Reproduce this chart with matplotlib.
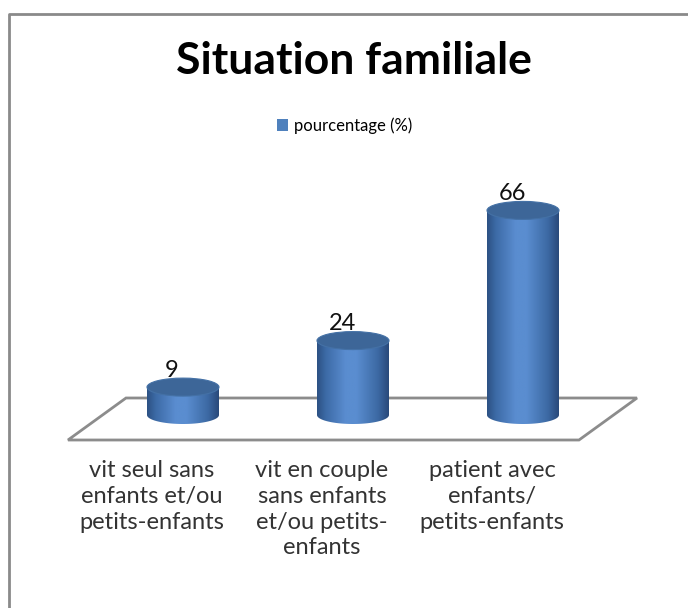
import numpy as np
import matplotlib.pyplot as plt
from matplotlib.patches import Polygon, Ellipse, Rectangle
from matplotlib.lines import Line2D
from matplotlib.colors import LinearSegmentedColormap

title = "Situation familiale"
series_name = "pourcentage (%)"
categories = ["vit seul sans\nenfants et/ou\npetits-enfants",
              "vit en couple\nsans enfants\net/ou petits-\nenfants",
              "patient avec\nenfants/\npetits-enfants"]
values = [9, 24, 66]

plt.rcParams['font.family'] = ['Lato', 'DejaVu Sans']

W, H = 688, 608
fig = plt.figure(figsize=(W / 100, H / 100), dpi=100)
ax = fig.add_axes([0, 0, 1, 1])
ax.axis('off')

# layout: pixels of first cylinder centre / spacing, base line / px per percent
x0, step = 183, 170
base, unit = 415, 3.1
rw = 36 / step   # cylinder radius (x units)
rh = 9 / unit    # ellipse half height (y units)

# floor (3d plane)
fb, ff = (base - 398) / unit, (base - 440) / unit
fl, fr = (126 - x0) / step, (637 - x0) / step
shift = -58 / step
floor = Polygon([[fl, fb], [fr, fb], [fr + shift, ff], [fl + shift, ff]], closed=True,
                facecolor='white', edgecolor='#8c8c8c', lw=2, zorder=1)
ax.add_patch(floor)

cmap = LinearSegmentedColormap.from_list('cyl', [
    (0.0, '#2c5183'), (0.12, '#3c6aa6'), (0.4, '#5a8dd0'), (0.55, '#5a8dd0'),
    (0.85, '#3c69a3'), (1.0, '#29497a')])
grad = np.linspace(0, 1, 256).reshape(1, -1)

t = np.linspace(np.pi, 2 * np.pi, 80)
for i, v in enumerate(values):
    xs = np.concatenate([i + rw * np.cos(t), [i + rw, i - rw]])
    ys = np.concatenate([rh * np.sin(t), [v, v]])
    body = Polygon(np.column_stack([xs, ys]), closed=True, facecolor='none',
                   edgecolor='none', zorder=2)
    ax.add_patch(body)
    im = ax.imshow(grad, cmap=cmap, extent=[i - rw, i + rw, -rh, v],
                   aspect='auto', zorder=2, interpolation='bilinear')
    im.set_clip_path(body)
    ax.add_patch(Ellipse((i, v), 2 * rw, 2 * rh, facecolor='#3d6698',
                         edgecolor='#4471a6', lw=0.8, zorder=3))
    ax.text(i - 11 / step, v + 17 / unit, str(v), ha='center', va='center',
            fontsize=17, color='#111111', zorder=4)

for i, lab in enumerate(categories):
    ax.text(i - 31 / step, (base - 460) / unit, lab, ha='center', va='top',
            fontsize=17, color='#333333', linespacing=1.28)

ax.set_xlim(-x0 / step, (W - x0) / step)
ax.set_ylim((base - H) / unit, base / unit)

# title, legend, frame
fig.text(354 / W, 1 - 61 / H, title, ha='center', va='center',
         fontsize=32, fontweight='bold')
fig.patches.append(Rectangle((277 / W, 1 - 131 / H), 11 / W, 12 / H,
                             transform=fig.transFigure, facecolor='#4f81bd',
                             edgecolor='none'))
fig.text(294 / W, 1 - 126 / H, series_name, ha='left', va='center', fontsize=12)
fig.lines.append(Line2D([9 / W, 9 / W, 1], [0, 1 - 14 / H, 1 - 14 / H],
                        transform=fig.transFigure, color='#8a8a8a', lw=2))

fig.savefig('out.png', dpi=100)
